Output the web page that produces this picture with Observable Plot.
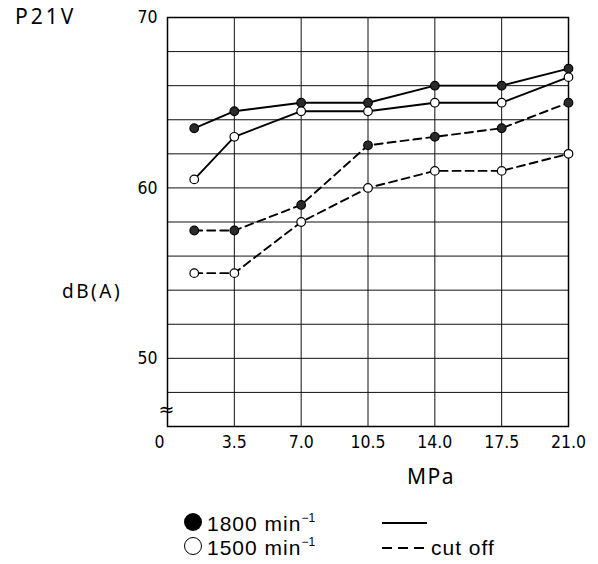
<!DOCTYPE html>
<html><head><meta charset="utf-8">
<script src="https://cdn.jsdelivr.net/npm/d3@7"></script>
<script src="https://cdn.jsdelivr.net/npm/@observablehq/plot@0.6"></script>
<style>
body{margin:0;background:#fff;}
#fig{position:relative;width:598px;height:564px;font-family:"Noto Sans",sans-serif;color:#000;overflow:hidden;}
#fig svg.plot{position:absolute;left:0;top:0;}
.lbl{position:absolute;white-space:nowrap;line-height:1;}
.leg{font-family:"Liberation Sans",Arial,sans-serif;}
sup{font-size:12px;vertical-align:0;position:relative;top:-9px;letter-spacing:0;line-height:0;}
</style></head><body><div id="fig"></div>
<script>
// ---- data ----
const pressure = [1.4, 3.5, 7.0, 10.5, 14.0, 17.5, 21.0];          // MPa
const db1800Full = [63.5, 64.5, 65, 65, 66, 66, 67];                 // solid, filled dots
const db1500Full = [60.5, 63, 64.5, 64.5, 65, 65, 66.5];             // solid, open dots
const db1800Cut  = [57.5, 57.5, 59, 62.5, 63, 63.5, 65];             // dashed, filled dots
const db1500Cut  = [55, 55, 58, 60, 61, 61, 62];                     // dashed, open dots
const xTicks = [0, 3.5, 7.0, 10.5, 14.0, 17.5, 21.0];
const yLabelTicks = [50, 60, 70];
const yGridLines = [46, 48, 50, 52, 54, 56, 58, 60, 62, 64, 66, 68, 70];

const mk = (vals, series, speed, mode) => vals.map((v, i) => ({x: pressure[i], y: v, series, speed, mode}));
const solidRows = [...mk(db1800Full, "1800 full", 1800, "full"), ...mk(db1500Full, "1500 full", 1500, "full")];
const dashRows  = [...mk(db1800Cut, "1800 cut", 1800, "cut"), ...mk(db1500Cut, "1500 cut", 1500, "cut")];
const allRows = [...solidRows, ...dashRows];

const chart = Plot.plot({
  width: 598,
  height: 466,
  marginLeft: 167,
  marginRight: 30,
  marginTop: 17,
  marginBottom: 40,
  style: {fontFamily: "'Liberation Sans Narrow', 'DejaVu Sans Condensed', sans-serif", fontSize: "17.5px", color: "#000", background: "#fff"},
  x: {domain: [0, 21]},
  y: {domain: [46, 70]},
  marks: [
    Plot.gridY(yGridLines, {stroke: "#111", strokeOpacity: 1, strokeWidth: 1}),
    Plot.gridX(xTicks, {stroke: "#111", strokeOpacity: 1, strokeWidth: 1}),
    Plot.frame({stroke: "#000", strokeWidth: 1.5}),
    Plot.line(solidRows, {x: "x", y: "y", z: "series", stroke: "#000", strokeWidth: 1.9}),
    Plot.line(dashRows, {x: "x", y: "y", z: "series", stroke: "#000", strokeWidth: 1.9, strokeDasharray: "8,5"}),
    Plot.dot(allRows.filter(d => d.speed === 1800), {x: "x", y: "y", r: 4.3, fill: "#2a2a2a", stroke: "#000", strokeWidth: 1.2}),
    Plot.dot(allRows.filter(d => d.speed === 1500), {x: "x", y: "y", r: 4.3, fill: "#fff", stroke: "#000", strokeWidth: 1.2}),
    Plot.axisY(yLabelTicks, {tickSize: 0, tickPadding: 10, label: null}),
    Plot.axisX(xTicks.filter(d => d !== 0), {tickSize: 0, tickPadding: 9, label: null, tickFormat: d => d.toFixed(1)}),
    Plot.axisX([0], {tickSize: 0, tickPadding: 9, label: null, dx: -8, tickFormat: d => String(d)}),
    Plot.text(["≈"], {frameAnchor: "bottom-left", dy: -17, dx: -1, text: d => d, textAnchor: "middle", lineAnchor: "middle", fontSize: 19, fontFamily: "DejaVu Sans", fill: "#000"})
  ]
});
chart.classList.add("plot");
const fig = document.getElementById("fig");
fig.appendChild(chart);

function lbl(html, left, top, size, extra, cls) {
  const s = document.createElement("div");
  s.className = "lbl" + (cls ? " " + cls : "");
  s.innerHTML = html;
  s.style.left = left + "px";
  s.style.top = top + "px";
  s.style.fontSize = size + "px";
  if (extra) Object.assign(s.style, extra);
  fig.appendChild(s);
  return s;
}
lbl("P21V", 15, 6, 21, {letterSpacing: "3px"});
lbl("dB(A)", 62, 282, 19, {letterSpacing: "2.5px"});
lbl("MPa", 407, 466, 21, {letterSpacing: "1.5px"});
lbl("1800 min<sup>−1</sup>", 207, 513, 21, {letterSpacing: "1px"}, "leg");
lbl("1500 min<sup>−1</sup>", 207, 537, 21, {letterSpacing: "1px"}, "leg");
lbl("cut off", 431, 537, 21, {letterSpacing: "1px"}, "leg");

// legend symbols
const ns = "http://www.w3.org/2000/svg";
const leg = document.createElementNS(ns, "svg");
leg.setAttribute("width", 598); leg.setAttribute("height", 564);
leg.style.position = "absolute"; leg.style.left = "0"; leg.style.top = "0";
leg.innerHTML = `
  <circle cx="193" cy="522" r="9" fill="#000"/>
  <circle cx="193" cy="546" r="8.5" fill="#fff" stroke="#000" stroke-width="1"/>
  <line x1="382" x2="427" y1="523" y2="523" stroke="#000" stroke-width="1.8"/>
  <line x1="382" x2="427" y1="548" y2="548" stroke="#000" stroke-width="1.8" stroke-dasharray="10,6"/>`;
fig.appendChild(leg);
</script></body></html>
